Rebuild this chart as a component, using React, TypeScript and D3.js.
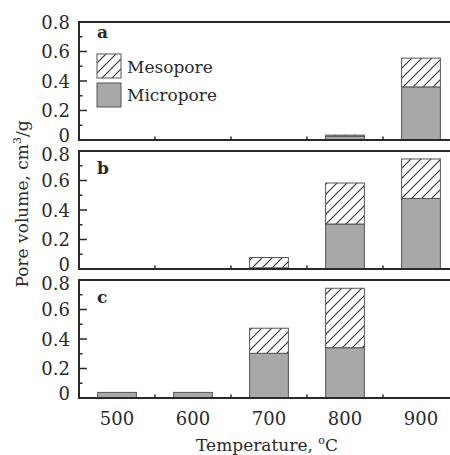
import React from 'react';
import { scaleBand, scaleLinear, stack, range } from 'd3';

const temps = ['500', '600', '700', '800', '900'];
const panelNames = ['a', 'b', 'c'];

const microA = [0, 0, 0, 0.025, 0.36];
const mesoA = [0, 0, 0, 0.008, 0.195];
const microB = [0, 0, 0.008, 0.305, 0.478];
const mesoB = [0, 0, 0.07, 0.278, 0.268];
const microC = [0.038, 0.038, 0.303, 0.341, 0];
const mesoC = [0, 0, 0.17, 0.403, 0];

const yTicks = [0, 0.2, 0.4, 0.6, 0.8];
const yMinor = [0.1, 0.3, 0.5, 0.7];

const seriesKeys = ['micro', 'meso'];
const legendLabels = ['Mesopore', 'Micropore'];

const panelMicro = [microA, microB, microC];
const panelMeso = [mesoA, mesoB, mesoC];

const W = 450;
const H = 455;
const left = 79;
const right = 459;
const panelTops = [22, 151, 280];
const panelH = 118;

const font = 'DejaVu Serif, serif';
const ink = '#2a2a2a';
const grey = '#a8a8a8';

// baseline offset of a y tick label: the 0 sits a bit high and the 0.8 of the
// lower panels a bit low, so the labels of stacked panels do not collide
const labelDy = (v: number, p: number) => {
  if (v === 0) return 1.5;
  if (v === 0.8 && p > 0) return 9.5;
  return 6.5;
};

const App = () => {
  const x = scaleBand().domain(temps).range([left, right]).padding(0);
  const bw = x.bandwidth();
  const barW = bw * 0.51;

  const stacker = stack().keys(seriesKeys);

  return (
    <svg width={W} height={H} style={{ position: 'absolute', left: 0, top: 0, background: '#fff' }}>
      <defs>
        <pattern id="hatch" patternUnits="userSpaceOnUse" width={10} height={10}>
          <rect width={10} height={10} fill="#fff" />
          <path d="M-2,12 L12,-2 M-7,7 L7,-7 M3,17 L17,3" stroke="#333" strokeWidth={1.1} />
        </pattern>
      </defs>

      {panelNames.map((name, p) => {
        const top = panelTops[p];
        const y = scaleLinear().domain([0, 0.8]).range([top + panelH, top]);
        const rows = temps.map((t, i) => ({ t, micro: panelMicro[p][i], meso: panelMeso[p][i] }));
        const layers = stacker(rows);
        return (
          <g key={name}>
            {layers.map((layer) =>
              layer.map((d, i) => {
                const h = y(d[0]) - y(d[1]);
                if (h <= 0) return null;
                return (
                  <rect
                    key={layer.key + i}
                    x={x(temps[i]) + (bw - barW) / 2}
                    y={y(d[1])}
                    width={barW}
                    height={h}
                    fill={layer.key === 'micro' ? grey : 'url(#hatch)'}
                    stroke="#555"
                    strokeWidth={1}
                  />
                );
              })
            )}

            {/* frame: top, left, bottom */}
            <path
              d={`M${right},${top} H${left} V${top + panelH} H${right}`}
              fill="none"
              stroke={ink}
              strokeWidth={2}
            />

            {yTicks.map((v) => (
              <g key={'t' + v}>
                <line x1={left} x2={left + 8} y1={y(v)} y2={y(v)} stroke={ink} strokeWidth={1.5} />
                <text
                  x={70}
                  y={y(v) + labelDy(v, p)}
                  textAnchor="end"
                  fontFamily={font}
                  fontSize={18}
                  fill={ink}
                >
                  {v === 0 ? '0' : v.toFixed(1)}
                </text>
              </g>
            ))}
            {yMinor.map((v) => (
              <line key={'m' + v} x1={left} x2={left + 3.5} y1={y(v)} y2={y(v)} stroke={ink} strokeWidth={1.5} />
            ))}
            {range(1, temps.length).map((i) => (
              <line
                key={'x' + i}
                x1={left + i * bw}
                x2={left + i * bw}
                y1={top + panelH}
                y2={top + panelH - 3.5}
                stroke={ink}
                strokeWidth={1.5}
              />
            ))}

            <text
              x={97}
              y={[38, 174, 303][p]}
              fontFamily={font}
              fontSize={17}
              fontWeight="bold"
              fill={ink}
            >
              {name}
            </text>
          </g>
        );
      })}

      {/* legend */}
      <rect x={97} y={54} width={24} height={24} fill="url(#hatch)" stroke="#555" strokeWidth={1} />
      <rect x={97} y={83} width={24} height={24} fill={grey} stroke="#555" strokeWidth={1} />
      {legendLabels.map((l, i) => (
        <text key={l} x={127} y={73 + i * 28} fontFamily={font} fontSize={17} fill={ink}>
          {l}
        </text>
      ))}

      {temps.map((t) => (
        <text
          key={t}
          x={x(t) + bw / 2}
          y={425}
          textAnchor="middle"
          fontFamily={font}
          fontSize={18}
          fill={ink}
        >
          {t}
        </text>
      ))}

      <text
        x={(left + right) / 2 - 2}
        y={451}
        textAnchor="middle"
        fontFamily={font}
        fontSize={17}
        fill={ink}
      >
        Temperature, <tspan fontSize={11} dy={-7}>o</tspan>
        <tspan dy={7}>C</tspan>
      </text>

      <text
        transform={`translate(28,204) rotate(-90)`}
        textAnchor="middle"
        fontFamily={font}
        fontSize={17}
        fill={ink}
      >
        Pore volume, cm<tspan fontSize={11} dy={-7}>3</tspan>
        <tspan dy={7}>/g</tspan>
      </text>
    </svg>
  );
};

export default App;
